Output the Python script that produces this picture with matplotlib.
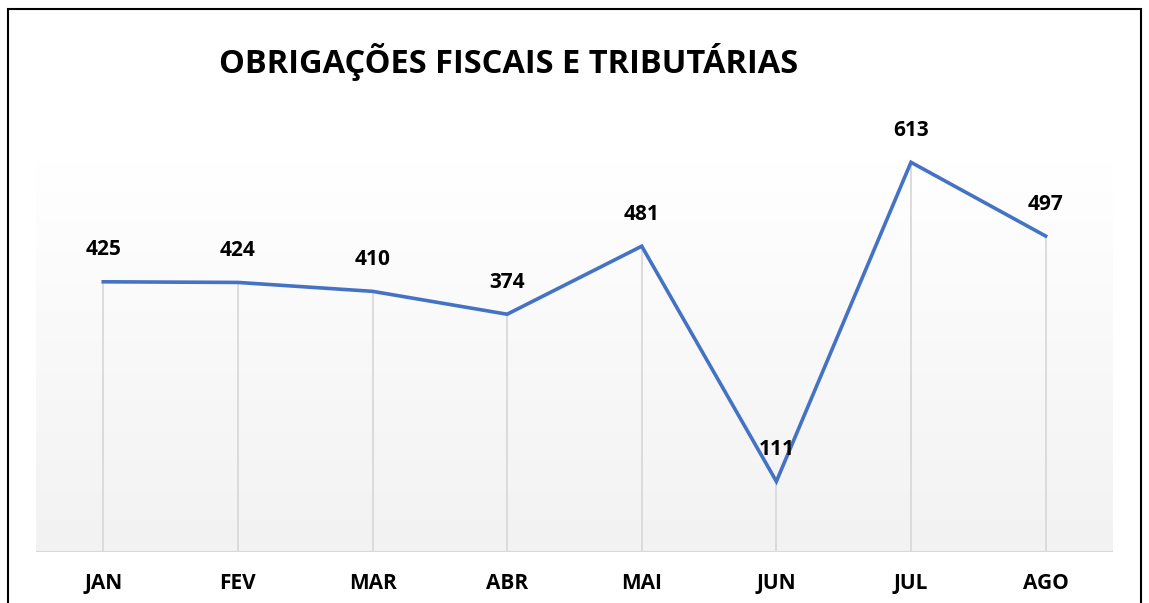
import matplotlib.pyplot as plt
import numpy as np
from matplotlib.patches import Rectangle

plt.rcParams['font.family'] = ['Open Sans', 'DejaVu Sans']

months = ["JAN", "FEV", "MAR", "ABR", "MAI", "JUN", "JUL", "AGO"]
values = [425, 424, 410, 374, 481, 111, 613, 497]

fig = plt.figure(figsize=(11.49, 6.03), dpi=100)
ax = fig.add_axes([0.0313, 0.0846, 0.9373, 0.738])

x = np.arange(len(months))
ax.set_xlim(-0.5, len(months) - 0.5)
ax.set_ylim(0, 700)

# gradient background: white on top, light gray at the bottom
grad = np.linspace(1.0, 0.0, 256).reshape(-1, 1)
top = np.array([1.0, 1.0, 1.0])
bot = np.array([0xF2, 0xF2, 0xF2]) / 255
img = top * grad[..., None] + bot * (1 - grad[..., None])
ax.imshow(img, extent=[-0.5, len(months) - 0.5, 0, 615], aspect='auto',
          zorder=0, origin='upper')

# drop lines
ax.vlines(x, 0, values, colors='#D9D9D9', linewidth=1.3, zorder=1)
ax.axhline(0, color='#D9D9D9', linewidth=1.6, zorder=1)

ax.plot(x, values, color='#4472C4', linewidth=2.6, zorder=3,
        solid_joinstyle='miter')

for xi, v in zip(x, values):
    ax.annotate(str(v), (xi, v), xytext=(0, 23), textcoords='offset points',
                ha='center', va='center', fontsize=15, fontweight='bold',
                color='black', zorder=4)

ax.set_xticks(x)
ax.set_xticklabels(months, fontsize=15, fontweight='bold')
ax.tick_params(axis='x', length=0, pad=15)
ax.set_yticks([])
for s in ax.spines.values():
    s.set_visible(False)

fig.text(0.443, 0.897, "OBRIGAÇÕES FISCAIS E TRIBUTÁRIAS", ha='center',
         va='center', fontsize=23.5, fontweight='bold')

# chart border
fig.patches.append(Rectangle((8 / 1149, -0.05), (1141 - 8) / 1149,
                             1 - 9 / 603 + 0.05, transform=fig.transFigure,
                             fill=False, edgecolor='black', linewidth=1.5))

fig.savefig("out.png", dpi=100)
